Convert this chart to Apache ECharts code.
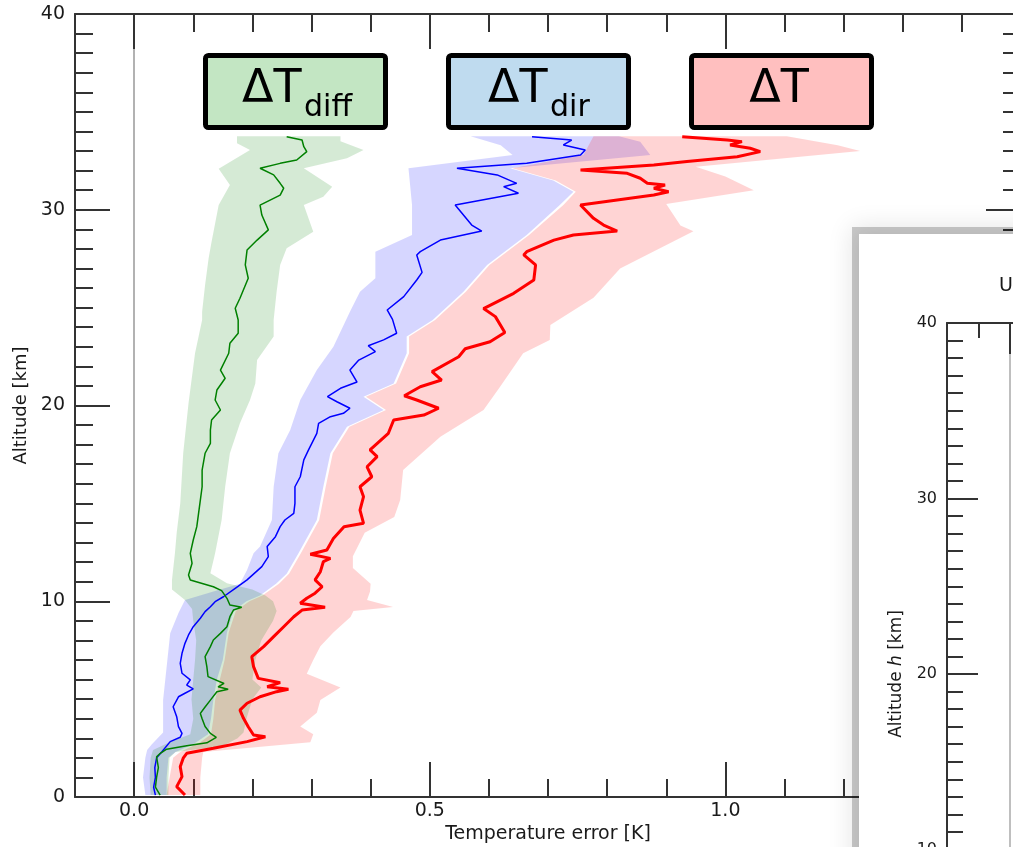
<!DOCTYPE html>
<html lang="en" style="height: 100%">
<head>
<meta charset="utf-8"/>
<title>Temperature error profiles</title>
<script src="https://cdn.jsdelivr.net/npm/echarts@6/dist/echarts.min.js"></script>
</head>
<body style="height: 100%; margin: 0; background: #fff">
<div id="container" style="width: 1013px; height: 847px"></div>
<script>
// profiles as [temperature error K, altitude km]
var diffLine = [[0.044,0.1],[0.036,0.5],[0.038,1.0],[0.041,1.5],[0.038,2.05],[0.043,2.2],[0.055,2.44],[0.089,2.62],[0.123,2.77],[0.139,3.05],[0.129,3.25],[0.12,3.6],[0.115,4.0],[0.112,4.27],[0.12,4.6],[0.129,4.95],[0.14,5.38],[0.159,5.5],[0.142,5.63],[0.152,5.8],[0.125,6.15],[0.123,6.66],[0.12,7.17],[0.129,7.68],[0.134,8.02],[0.146,8.36],[0.157,8.7],[0.162,9.21],[0.168,9.55],[0.182,9.69],[0.162,9.81],[0.157,10.15],[0.148,10.54],[0.134,10.74],[0.095,11.09],[0.092,11.34],[0.098,11.94],[0.095,12.45],[0.1,13.13],[0.106,13.81],[0.109,14.49],[0.112,15.17],[0.115,15.85],[0.115,16.7],[0.12,17.56],[0.129,18.07],[0.129,18.75],[0.131,19.26],[0.146,19.77],[0.137,20.28],[0.14,20.79],[0.154,21.39],[0.146,21.81],[0.16,22.67],[0.162,23.18],[0.176,23.69],[0.176,24.37],[0.171,24.97],[0.179,25.48],[0.193,26.5],[0.188,27.18],[0.191,27.94],[0.208,28.45],[0.227,28.97],[0.216,29.73],[0.213,30.24],[0.247,30.75],[0.253,31.1],[0.247,31.35],[0.236,31.78],[0.213,32.12],[0.247,32.37],[0.275,32.54],[0.292,32.97],[0.287,33.22],[0.284,33.56],[0.258,33.73]];
var diffLow = [[0.028,0.1],[0.026,1.0],[0.028,2.0],[0.032,2.4],[0.06,2.8],[0.095,3.2],[0.1,4.0],[0.097,5.0],[0.1,6.0],[0.103,7.0],[0.105,8.0],[0.1,9.0],[0.098,9.6],[0.086,10.06],[0.064,10.6],[0.064,11.09],[0.069,12.45],[0.072,13.5],[0.078,15.0],[0.083,17.56],[0.092,20.11],[0.103,22.67],[0.115,24.37],[0.115,24.79],[0.12,26.16],[0.126,27.52],[0.131,28.37],[0.143,30.24],[0.162,31.26],[0.143,32.1],[0.196,33.05],[0.174,33.4],[0.174,33.75]];
var diffHigh = [[0.058,0.1],[0.058,1.0],[0.06,2.0],[0.07,2.3],[0.15,2.6],[0.175,3.0],[0.185,3.3],[0.19,4.0],[0.2,5.0],[0.215,5.6],[0.2,6.0],[0.205,7.0],[0.215,8.0],[0.235,9.0],[0.241,9.5],[0.235,10.0],[0.222,10.3],[0.2,10.6],[0.157,10.92],[0.129,11.43],[0.137,12.45],[0.148,14.15],[0.154,15.85],[0.162,17.56],[0.179,19.09],[0.196,20.28],[0.205,21.13],[0.208,22.32],[0.236,23.52],[0.236,24.37],[0.241,25.81],[0.247,27.18],[0.258,28.03],[0.303,28.88],[0.287,30.24],[0.32,30.67],[0.335,31.18],[0.287,32.12],[0.36,32.63],[0.388,33.05],[0.349,33.5],[0.349,33.75]];

var dirLine = [[0.036,0.1],[0.033,0.5],[0.036,1.0],[0.035,1.5],[0.038,2.0],[0.047,2.31],[0.061,2.83],[0.078,3.05],[0.081,3.25],[0.075,3.59],[0.072,4.1],[0.066,4.61],[0.075,5.12],[0.086,5.3],[0.1,5.52],[0.089,5.72],[0.095,5.98],[0.081,6.32],[0.078,6.83],[0.081,7.34],[0.086,7.85],[0.092,8.28],[0.1,8.7],[0.112,9.13],[0.12,9.47],[0.129,9.72],[0.137,9.98],[0.151,10.23],[0.171,10.66],[0.191,11.09],[0.216,11.77],[0.227,12.28],[0.225,12.8],[0.239,13.3],[0.247,13.81],[0.255,14.15],[0.27,14.49],[0.272,15.0],[0.272,15.85],[0.281,16.36],[0.287,17.22],[0.295,17.73],[0.309,18.58],[0.312,19.09],[0.332,19.43],[0.354,19.6],[0.365,19.86],[0.343,20.19],[0.327,20.45],[0.349,20.88],[0.377,21.2],[0.365,21.81],[0.38,22.32],[0.408,22.75],[0.396,23.05],[0.422,23.35],[0.444,23.69],[0.437,24.4],[0.428,24.88],[0.456,25.56],[0.478,26.41],[0.487,26.8],[0.478,27.69],[0.484,27.86],[0.518,28.45],[0.588,28.91],[0.571,29.22],[0.543,30.24],[0.65,30.84],[0.625,31.18],[0.647,31.35],[0.614,31.78],[0.546,32.12],[0.664,32.37],[0.755,32.8],[0.763,33.05],[0.726,33.31],[0.74,33.56],[0.673,33.73]];
var dirLow = [[0.019,0.1],[0.015,1.0],[0.019,2.0],[0.022,2.4],[0.03,2.7],[0.049,3.3],[0.049,4.95],[0.055,6.66],[0.061,8.36],[0.075,9.4],[0.086,10.06],[0.134,10.5],[0.179,10.9],[0.191,11.6],[0.202,12.45],[0.213,12.8],[0.233,14.15],[0.236,15.85],[0.244,17.56],[0.264,18.75],[0.281,20.28],[0.309,21.81],[0.337,23.0],[0.365,24.79],[0.382,25.81],[0.408,26.5],[0.408,27.86],[0.47,28.71],[0.47,30.24],[0.464,32.12],[0.64,32.8],[0.62,33.3],[0.569,33.75]];
var dirHigh = [[0.055,0.1],[0.055,1.0],[0.058,2.0],[0.07,2.3],[0.1,2.7],[0.125,3.2],[0.13,4.0],[0.134,4.95],[0.14,6.0],[0.15,7.0],[0.157,8.4],[0.168,9.5],[0.19,10.0],[0.213,10.3],[0.24,10.9],[0.258,11.4],[0.278,12.45],[0.309,14.15],[0.32,15.85],[0.332,17.56],[0.36,18.92],[0.422,19.77],[0.388,20.45],[0.439,21.13],[0.461,22.67],[0.461,23.52],[0.505,24.37],[0.557,25.81],[0.597,27.18],[0.664,28.71],[0.72,30.24],[0.743,30.92],[0.709,31.5],[0.636,32.12],[0.873,32.8],[0.856,33.48],[0.82,33.75]];

var totalLine = [[0.086,0.1],[0.072,0.53],[0.081,1.04],[0.078,1.55],[0.083,1.98],[0.089,2.23],[0.134,2.49],[0.191,2.83],[0.222,3.08],[0.202,3.17],[0.193,3.59],[0.185,4.02],[0.179,4.44],[0.191,4.79],[0.213,5.12],[0.241,5.38],[0.261,5.5],[0.225,5.63],[0.247,5.84],[0.21,6.06],[0.202,6.66],[0.199,7.17],[0.219,7.68],[0.236,8.19],[0.253,8.7],[0.27,9.21],[0.284,9.55],[0.323,9.69],[0.281,9.9],[0.292,10.15],[0.306,10.41],[0.318,10.74],[0.306,11.09],[0.315,11.51],[0.32,12.02],[0.332,12.19],[0.298,12.4],[0.326,12.62],[0.337,13.2],[0.355,13.81],[0.388,13.98],[0.382,14.66],[0.388,15.34],[0.382,15.85],[0.402,16.36],[0.394,16.87],[0.411,17.39],[0.399,17.73],[0.43,18.58],[0.439,19.26],[0.49,19.51],[0.515,19.86],[0.478,20.28],[0.457,20.5],[0.484,20.96],[0.52,21.3],[0.504,21.73],[0.549,22.49],[0.56,22.9],[0.602,23.26],[0.627,23.73],[0.611,24.54],[0.591,24.95],[0.642,25.73],[0.676,26.41],[0.679,27.18],[0.659,27.69],[0.664,27.86],[0.71,28.45],[0.743,28.71],[0.817,28.91],[0.794,29.22],[0.777,29.56],[0.755,30.24],[0.879,30.75],[0.904,30.92],[0.879,31.1],[0.898,31.26],[0.868,31.35],[0.856,31.61],[0.834,31.86],[0.755,32.03],[0.879,32.29],[0.935,32.46],[1.02,32.71],[1.059,32.97],[1.042,33.14],[1.008,33.31],[1.028,33.48],[1.003,33.56],[0.927,33.73]];
var totalLow = [[0.055,0.1],[0.06,1.0],[0.066,2.0],[0.078,2.3],[0.112,2.8],[0.13,3.2],[0.134,4.0],[0.137,4.95],[0.145,6.0],[0.153,7.0],[0.16,8.4],[0.172,9.5],[0.195,10.0],[0.217,10.3],[0.245,10.9],[0.262,11.4],[0.282,12.45],[0.313,14.15],[0.324,15.85],[0.336,17.56],[0.364,18.92],[0.426,19.77],[0.392,20.45],[0.443,21.13],[0.465,22.67],[0.465,23.52],[0.509,24.37],[0.561,25.81],[0.601,27.18],[0.668,28.71],[0.726,30.24],[0.747,30.92],[0.713,31.5],[0.64,32.12],[0.76,32.8],[0.777,33.75]];
var totalHigh = [[0.112,0.1],[0.112,1.0],[0.115,2.0],[0.117,2.3],[0.298,2.8],[0.303,3.2],[0.281,3.6],[0.309,4.3],[0.315,4.95],[0.349,5.6],[0.292,6.3],[0.303,7.0],[0.315,7.7],[0.337,8.4],[0.366,9.2],[0.371,9.5],[0.438,9.7],[0.394,10.06],[0.399,10.5],[0.4,10.9],[0.37,11.7],[0.37,12.3],[0.39,13.5],[0.44,14.3],[0.45,15.17],[0.455,16.7],[0.518,18.4],[0.591,19.77],[0.619,20.96],[0.658,22.67],[0.703,23.35],[0.704,24.11],[0.777,25.5],[0.822,27.0],[0.946,28.9],[0.924,29.2],[0.9,30.3],[1.048,31.0],[1.0,31.7],[0.95,32.2],[1.228,33.0],[1.19,33.3],[1.104,33.75]];

var majorX = [0, 0.5, 1.0];

var font = 'DejaVu Sans';
var ink = '#333';
var textInk = '#1a1a1a';

var myChart = echarts.init(document.getElementById('container'));

// shaded spread: left edge going up, right edge coming back down
function band(low, high, color) {
    return {
        type: 'custom', xAxisIndex: 0, yAxisIndex: 0, data: [[0, 0]], silent: true, z: 1,
        renderItem: function (params, api) {
            var pts = low.concat(high.slice().reverse()).map(function (p) { return api.coord(p); });
            return { type: 'polygon', shape: { points: pts }, style: { fill: color } };
        }
    };
}
function line(data, color, width) {
    return {
        type: 'line', xAxisIndex: 0, yAxisIndex: 0, data: data, symbol: 'none', z: 3,
        lineStyle: { color: color, width: width }
    };
}
function tickAxis(pos, grid, min, max, extra) {
    var base = {
        type: 'value', gridIndex: grid, position: pos, min: min, max: max,
        axisLine: { onZero: false, lineStyle: { color: ink, width: 2 } },
        axisTick: { inside: true, lineStyle: { color: ink, width: 2 } },
        axisLabel: { show: false },
        splitLine: { show: false }
    };
    return echarts.util.merge(base, extra || {}, true);
}

var option = {
    animation: false,
    backgroundColor: '#fff',
    grid: [
        { left: 75, top: 14, width: 946, height: 783, outerBoundsMode: 'none', containLabel: false },
        { left: 947, top: 323, width: 441, height: 702, outerBoundsMode: 'none', containLabel: false }
    ],
    xAxis: [
        tickAxis('bottom', 0, -0.1, 1.5, {
            interval: 0.1, axisTick: { length: 18 },
            name: 'Temperature error [K]', nameLocation: 'middle', nameGap: 28, nameMoveOverlap: false,
            nameTextStyle: { fontFamily: font, fontSize: 19, color: textInk }
        }),
        tickAxis('bottom', 0, -0.1, 1.5, {
            axisLine: { show: false },
            axisTick: { length: 35, customValues: majorX },
            axisLabel: {
                show: true, customValues: majorX, margin: 5,
                fontFamily: font, fontSize: 19, color: textInk,
                formatter: function (v) { return v.toFixed(1); }
            }
        }),
        tickAxis('top', 0, -0.1, 1.5, { interval: 0.1, axisTick: { length: 18 } }),
        tickAxis('top', 0, -0.1, 1.5, { axisLine: { show: false }, axisTick: { length: 35, customValues: majorX } }),
        tickAxis('top', 1, -0.2, 1.2, { interval: 0.1, z: 102, axisTick: { length: 15 } }),
        tickAxis('top', 1, -0.2, 1.2, { z: 102, axisLine: { show: false }, axisTick: { length: 31, customValues: majorX } })
    ],
    yAxis: [
        tickAxis('left', 0, 0, 40, {
            interval: 10, axisTick: { length: 35 },
            minorTick: { show: true, splitNumber: 10, length: 18, lineStyle: { color: ink, width: 2 } },
            axisLabel: { show: true, margin: 10, fontFamily: font, fontSize: 19, color: textInk },
            name: 'Altitude [km]', nameLocation: 'middle', nameGap: 45, nameMoveOverlap: false,
            nameTextStyle: { fontFamily: font, fontSize: 18, color: textInk }
        }),
        tickAxis('right', 0, 0, 40, {
            interval: 10, axisTick: { length: 35 },
            minorTick: { show: true, splitNumber: 10, length: 18, lineStyle: { color: ink, width: 2 } }
        }),
        // zero line
        tickAxis('left', 0, 0, 40, {
            axisLine: { onZero: true, lineStyle: { color: '#999', width: 1.5 } },
            axisTick: { show: false }
        }),
        tickAxis('left', 1, 0, 40, {
            interval: 10, z: 102, axisTick: { length: 31 },
            minorTick: { show: true, splitNumber: 10, length: 16, lineStyle: { color: ink, width: 2 } },
            axisLabel: { show: true, margin: 10, fontFamily: font, fontSize: 16, color: textInk },
            name: 'Altitude {i|h} [km]', nameLocation: 'middle', nameGap: 42, nameMoveOverlap: false,
            nameTextStyle: { fontFamily: font, fontSize: 17, color: textInk, rich: { i: { fontFamily: font, fontSize: 17, fontStyle: 'italic', color: textInk } } }
        }),
        tickAxis('left', 1, 0, 40, {
            z: 102,
            axisLine: { onZero: true, lineStyle: { color: '#aaa', width: 1.5 } },
            axisTick: { show: false }
        })
    ],
    graphic: [
        // legend boxes
        { type: 'rect', shape: { x: 205.5, y: 55.5, width: 180, height: 72, r: 3 }, style: { fill: '#c3e6c3', stroke: '#000', lineWidth: 5 }, z: 10 },
        { type: 'text', x: 242, y: 90, style: { text: 'ΔT', fontFamily: font, fontSize: 46, fill: '#000', verticalAlign: 'middle' }, z: 11 },
        { type: 'text', x: 304, y: 108, style: { text: 'diff', fontFamily: font, fontSize: 30, fill: '#000', verticalAlign: 'middle' }, z: 11 },
        { type: 'rect', shape: { x: 448.5, y: 55.5, width: 180, height: 72, r: 3 }, style: { fill: '#bfdbef', stroke: '#000', lineWidth: 5 }, z: 10 },
        { type: 'text', x: 488, y: 90, style: { text: 'ΔT', fontFamily: font, fontSize: 46, fill: '#000', verticalAlign: 'middle' }, z: 11 },
        { type: 'text', x: 550, y: 108, style: { text: 'dir', fontFamily: font, fontSize: 30, fill: '#000', verticalAlign: 'middle' }, z: 11 },
        { type: 'rect', shape: { x: 691.5, y: 55.5, width: 180, height: 72, r: 3 }, style: { fill: '#ffbfbf', stroke: '#000', lineWidth: 5 }, z: 10 },
        { type: 'text', x: 779, y: 90, style: { text: 'ΔT', fontFamily: font, fontSize: 46, fill: '#000', align: 'center', verticalAlign: 'middle' }, z: 11 },
        // overlapping second figure with its shadow
        { type: 'rect', shape: { x: 852, y: 227, width: 400, height: 700 }, style: { fill: 'rgba(0,0,0,0.2)', shadowBlur: 24, shadowColor: 'rgba(0,0,0,0.55)' }, z: 100 },
        { type: 'rect', shape: { x: 859, y: 234, width: 400, height: 700 }, style: { fill: '#fff' }, z: 101 },
        { type: 'text', x: 999, y: 286, style: { text: 'U', fontFamily: font, fontSize: 19, fill: textInk, verticalAlign: 'middle' }, z: 103 }
    ],
    series: [
        band(dirLow, dirHigh, 'rgba(0,0,255,0.16)'),
        band(totalLow, totalHigh, 'rgba(255,0,0,0.17)'),
        band(diffLow, diffHigh, 'rgba(0,128,0,0.165)'),
        line(dirLine, '#0000ff', 1.5),
        line(totalLine, '#ff0000', 3),
        line(diffLine, '#008000', 1.5)
    ]
};
myChart.setOption(option);
</script>
</body>
</html>
